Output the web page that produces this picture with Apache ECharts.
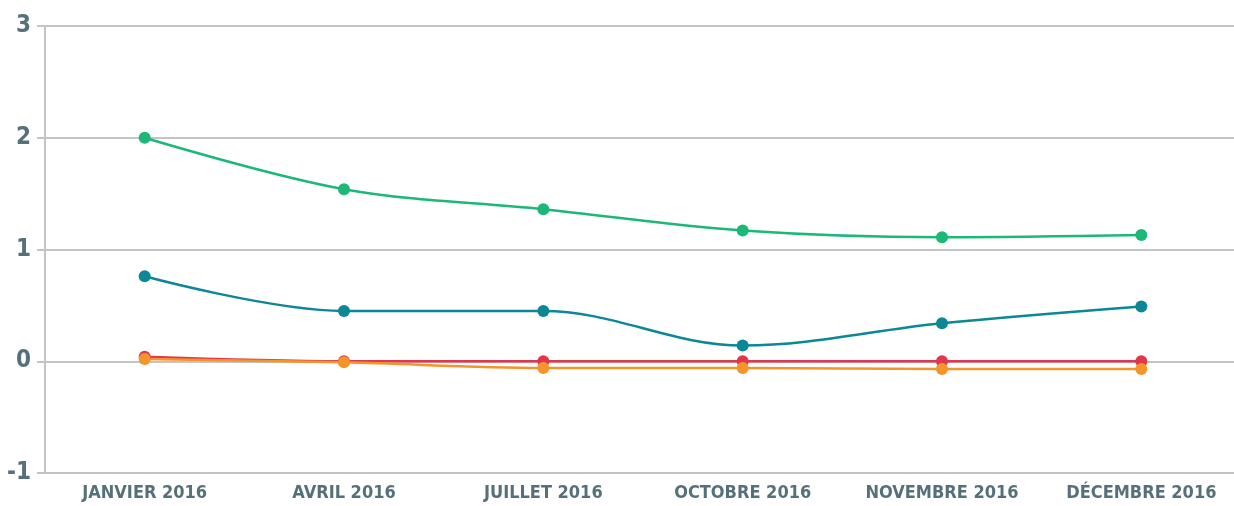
<!DOCTYPE html>
<html>
<head>
<meta charset="utf-8">
<script src="https://cdn.jsdelivr.net/npm/echarts@6/dist/echarts.min.js"></script>
<style>
  html, body { margin: 0; padding: 0; background: #fff; }
  #J_chart { width: 1234px; height: 506px; }
</style>
</head>
<body>
<div id="J_chart"></div>
<script>
var categories = ['JANVIER 2016', 'AVRIL 2016', 'JUILLET 2016', 'OCTOBRE 2016', 'NOVEMBRE 2016', 'DÉCEMBRE 2016'];
var greenValues = [2.0, 1.54, 1.36, 1.17, 1.11, 1.13];
var blueValues = [0.76, 0.45, 0.45, 0.14, 0.34, 0.49];
var redValues = [0.04, 0.0, 0.0, 0.0, 0.0, 0.0];
var orangeValues = [0.02, -0.01, -0.06, -0.06, -0.07, -0.07];

var textColor = '#56707a';
var gridColor = '#c4c4c4';
var labelFont = '"DejaVu Sans Condensed", "DejaVu Sans", sans-serif';

function makeSeries(name, color, data){
    return {
        name: name,
        type: 'line',
        smooth: 0.35,
        symbol: 'circle',
        symbolSize: 12,
        itemStyle: { color: color },
        lineStyle: { color: color, width: 2.5 },
        data: data
    };
}

var chart = echarts.init(document.getElementById('J_chart'));
chart.setOption({
    animation: false,
    grid: { left: 45, width: 1196, top: 26, height: 447, outerBoundsMode: 'none', containLabel: false },
    xAxis: {
        type: 'category',
        data: categories,
        boundaryGap: true,
        axisLine: { lineStyle: { color: gridColor, width: 2 } },
        axisTick: { alignWithLabel: true, length: 6, lineStyle: { color: gridColor, width: 2 } },
        axisLabel: {
            interval: 0,
            margin: 11,
            color: textColor,
            fontFamily: labelFont,
            fontWeight: 'bold',
            fontSize: 18
        },
        splitLine: { show: false }
    },
    yAxis: {
        type: 'value',
        min: -1,
        max: 3,
        interval: 1,
        axisLine: { show: true, lineStyle: { color: gridColor, width: 2 } },
        axisTick: { show: true, length: 8, lineStyle: { color: gridColor, width: 2 } },
        axisLabel: {
            margin: 14,
            color: textColor,
            fontFamily: labelFont,
            fontWeight: 'bold',
            fontSize: 24
        },
        splitLine: { lineStyle: { color: gridColor, width: 2 } }
    },
    series: [
        makeSeries('vert', '#1bb877', greenValues),
        makeSeries('bleu', '#0b8797', blueValues),
        makeSeries('rouge', '#e0374d', redValues),
        makeSeries('orange', '#f4952c', orangeValues)
    ]
});
</script>
</body>
</html>
